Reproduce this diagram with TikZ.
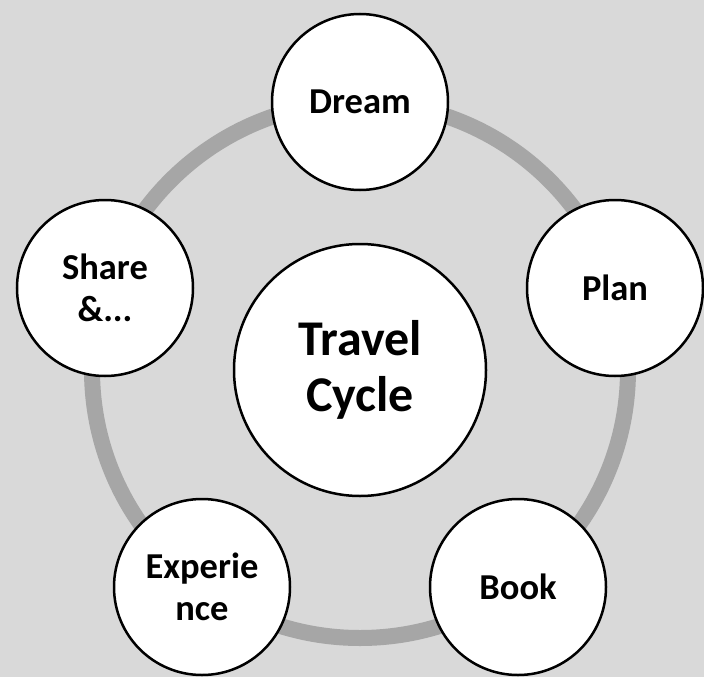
\documentclass[tikz,border=0pt]{standalone}
\usepackage{fontspec}
\setmainfont{Carlito}
\usepackage{tikz}
\definecolor{bggray}{HTML}{D9D9D9}
\definecolor{ringgray}{HTML}{A6A6A6}
\tikzset{
	stage/.style={circle, draw=black, fill=white, line width=2.5pt, inner sep=0pt,
		minimum size=176pt, align=center, font=\bfseries\fontsize{36.5}{42}\selectfont},
	hub/.style={stage, minimum size=252pt, font=\bfseries\fontsize{50}{56}\selectfont}
}

\begin{document}
\begin{tikzpicture}[x=1pt, y=-1pt]
		%%%%% START %%%%%
		
		\useasboundingbox[fill=bggray] (0, 0) rectangle (704, 677);
		
		\coordinate (mid) at (360, 370);
		\draw[line width=16pt, color=ringgray] (mid) circle (268);
		
		\node[hub] (cycle) at (mid) {Travel\\Cycle};
		
		\node[stage] (dream) at (360, 102) {Dream};
		\node[stage] (plan) at (615, 288) {Plan};
		\node[stage] (book) at (518, 587) {Book};
		\node[stage] (exper) at (202, 587) {Experie\\nce};
		\node[stage] (share) at (105, 288) {Share\\\&...};
		
		%%%%% END %%%%%
	\end{tikzpicture}
\end{document}
